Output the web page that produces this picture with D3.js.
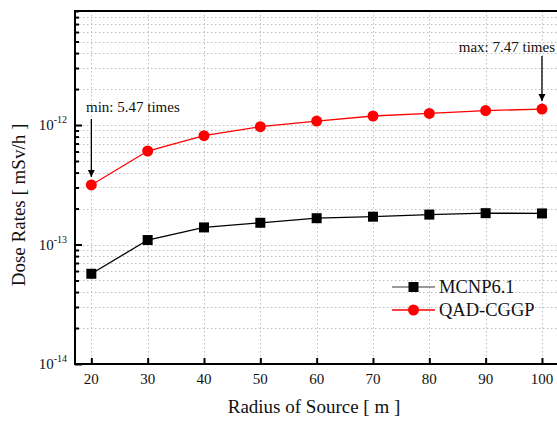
<!DOCTYPE html>
<html>
<head>
<meta charset="utf-8">
<script src="https://cdn.jsdelivr.net/npm/d3@7"></script>
<style>
	body { margin: 0; background: #fff; }
</style>
</head>
<body>
<svg id="chart" width="557" height="422" font-family="'Liberation Serif', 'DejaVu Serif', serif" fill="#111"></svg>
<script>
// radius of source [m]
const radius = [20, 30, 40, 50, 60, 70, 80, 90, 100];
const mcnp = [5.69e-14, 1.09e-13, 1.39e-13, 1.52e-13, 1.66e-13, 1.71e-13, 1.78e-13, 1.83e-13, 1.82e-13];
const qad = [3.15e-13, 6.06e-13, 8.14e-13, 9.68e-13, 1.08e-12, 1.19e-12, 1.25e-12, 1.32e-12, 1.36e-12];
const xTicks = [20, 30, 40, 50, 60, 70, 80, 90, 100];
const yDecades = [-14, -13, -12];

let svg = d3.select('#chart');
let pLeft = 75, pTop = 11, pRight = 560, pBottom = 364;

let x = d3.scaleLinear().domain([17.1, 103.2]).range([pLeft, pRight]);
let y = d3.scaleLog().domain([1e-14, 9e-12]).range([pBottom, pTop]);

// minor log ticks (2..9 of each decade)
let minor = [];
yDecades.forEach(e => {
	for (let m = 2; m <= 9; m++) {
		let v = m * Math.pow(10, e);
		if (v <= 9e-12) minor.push(v);
	}
});

// grid
let grid = svg.append('g').attr('stroke', '#bdbdbd').attr('stroke-dasharray', '1.5,2.5').attr('stroke-width', 1);
grid.selectAll('.gy').data(minor.concat(yDecades.map(e => Math.pow(10, e))))
	.enter().append('line')
	.attr('x1', pLeft).attr('x2', pRight)
	.attr('y1', d => Math.round(y(d)) + 0.5).attr('y2', d => Math.round(y(d)) + 0.5);
grid.selectAll('.gx').data(xTicks)
	.enter().append('line')
	.attr('y1', pTop).attr('y2', pBottom)
	.attr('x1', d => Math.round(x(d)) + 0.5).attr('x2', d => Math.round(x(d)) + 0.5);

// axes with inward ticks
let xAxis = svg.append('g')
	.attr('transform', `translate(0,${pBottom})`)
	.call(d3.axisTop(x).tickValues(xTicks).tickSize(6).tickFormat(''));
svg.append('g').selectAll('text').data(xTicks).enter().append('text')
	.attr('x', d => x(d)).attr('y', pBottom + 20)
	.attr('text-anchor', 'middle').attr('font-size', 15)
	.text(d => d);

let yMajor = svg.append('g')
	.attr('transform', `translate(${pLeft},0)`)
	.call(d3.axisRight(y).tickValues(yDecades.map(e => Math.pow(10, e))).tickSize(7).tickFormat(''));
let yMinor = svg.append('g')
	.attr('transform', `translate(${pLeft},0)`)
	.call(d3.axisRight(y).tickValues(minor).tickSize(4).tickFormat(''));
[xAxis, yMajor, yMinor].forEach(a => {
	a.select('.domain').remove();
	a.selectAll('line').attr('stroke', '#000').attr('stroke-width', 2);
});

// frame
svg.append('path')
	.attr('d', `M${pRight},${pTop}H${pLeft}V${pBottom}H${pRight}`)
	.attr('fill', 'none').attr('stroke', '#000').attr('stroke-width', 2);

// y tick labels 10^n
let yl = svg.append('g').selectAll('text').data(yDecades).enter().append('text')
	.attr('x', 67).attr('y', d => y(Math.pow(10, d)) + 5)
	.attr('text-anchor', 'end').attr('font-size', 15);
yl.append('tspan').text('10');
yl.append('tspan').attr('dy', -7).attr('font-size', 10).text(d => '-' + Math.abs(d));

// axis titles
svg.append('text')
	.attr('x', 314).attr('y', 413)
	.attr('text-anchor', 'middle').attr('font-size', 19)
	.text('Radius of Source [ m ]');
svg.append('text')
	.attr('transform', 'translate(25,205) rotate(-90)')
	.attr('text-anchor', 'middle').attr('font-size', 19)
	.text('Dose Rates [ mSv/h ]');

// series
let line = d3.line().x(d => x(d[0])).y(d => y(d[1]));
let mData = radius.map((r, i) => [r, mcnp[i]]);
let qData = radius.map((r, i) => [r, qad[i]]);

svg.append('path').datum(mData).attr('d', line)
	.attr('fill', 'none').attr('stroke', '#000').attr('stroke-width', 1.3);
svg.selectAll('.sq').data(mData).enter().append('rect')
	.attr('x', d => x(d[0]) - 5).attr('y', d => y(d[1]) - 5)
	.attr('width', 10).attr('height', 10).attr('fill', '#000');

svg.append('path').datum(qData).attr('d', line)
	.attr('fill', 'none').attr('stroke', '#ff0000').attr('stroke-width', 1.3);
svg.selectAll('.dot').data(qData).enter().append('circle')
	.attr('cx', d => x(d[0])).attr('cy', d => y(d[1]))
	.attr('r', 5.5).attr('fill', '#ff0000');

// annotations
svg.append('defs').append('marker')
	.attr('id', 'arrow').attr('viewBox', '0 0 10 10')
	.attr('refX', 10).attr('refY', 5)
	.attr('markerWidth', 7).attr('markerHeight', 10)
	.attr('markerUnits', 'userSpaceOnUse')
	.attr('orient', 'auto')
	.append('path').attr('d', 'M0,0L10,5L0,10z').attr('fill', '#000');

function note(r, v, txt, ty, y0, anchor, tx) {
	svg.append('line')
		.attr('x1', x(r)).attr('x2', x(r))
		.attr('y1', y0).attr('y2', y(v) - 8)
		.attr('stroke', '#000').attr('stroke-width', 1.3)
		.attr('marker-end', 'url(#arrow)');
	svg.append('text')
		.attr('x', tx).attr('y', ty)
		.attr('text-anchor', anchor).attr('font-size', 15)
		.text(txt);
}
note(20, qad[0], 'min: 5.47 times', 112, 119, 'start', 86);
note(100, qad[8], 'max: 7.47 times', 52, 56, 'end', 555);

// legend
let legend = svg.append('g');
let items = [
	{name: 'MCNP6.1', color: '#777', mark: '#000', shape: 'square', ly: 287},
	{name: 'QAD-CGGP', color: '#ff0000', mark: '#ff0000', shape: 'circle', ly: 310}
];
items.forEach(it => {
	legend.append('line')
		.attr('x1', 392).attr('x2', 435)
		.attr('y1', it.ly).attr('y2', it.ly)
		.attr('stroke', it.color).attr('stroke-width', 1.5);
	if (it.shape === 'square') {
		legend.append('rect').attr('x', 408.5).attr('y', it.ly - 5)
			.attr('width', 10).attr('height', 10).attr('fill', it.mark);
	} else {
		legend.append('circle').attr('cx', 413.5).attr('cy', it.ly)
			.attr('r', 5.5).attr('fill', it.mark);
	}
	legend.append('text')
		.attr('x', 439).attr('y', it.ly + 6)
		.attr('font-size', 18.5)
		.text(it.name);
});
</script>
</body>
</html>
